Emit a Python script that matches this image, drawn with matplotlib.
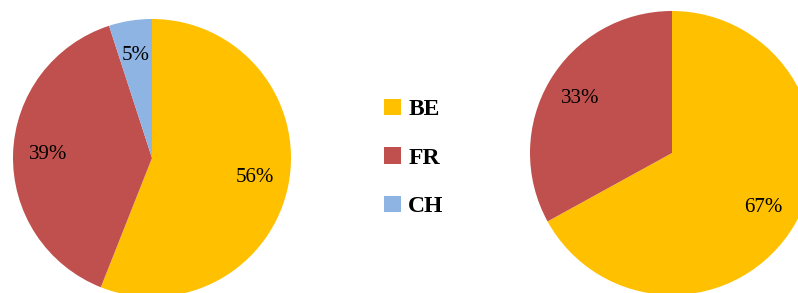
import matplotlib
matplotlib.use('Agg')
import matplotlib.pyplot as plt

#~~~~~~~~~~~~~~~~~~~~~~~~~~~~~~~~~~~~~~~~~~~~~~~~~~~~~~~~~~~~~~~~~~~~~~~~#
categories = ['BE', 'FR', 'CH']
colors = ['#FFC000', '#C0504D', '#8DB4E2']
left_vals = [56, 39, 5]
right_vals = [67, 33, 0]

plt.rcParams['font.family'] = ['Liberation Serif', 'DejaVu Serif']

W, H = 798, 293
fig = plt.figure(figsize=(W/100, H/100), dpi=100)

def pct(p):
   if p < 0.5:
      return ''
   return '%d%%' % round(p)

def pie_axes(cx, cy, r):
   # cx, cy, r in pixels, cy measured from top
   return fig.add_axes([(cx-r)/W, (H-cy-r)/H, 2*r/W, 2*r/H])

ax1 = pie_axes(152, 158, 139)
wedges, _, _ = ax1.pie(left_vals, colors=colors, startangle=90, counterclock=False,
                       autopct=pct, pctdistance=0.75, radius=1,
                       textprops={'fontsize': 15, 'color': 'black'})
ax1.set_xlim(-1, 1)
ax1.set_ylim(-1, 1)
ax1.axis('off')

ax2 = pie_axes(672, 153, 142)
ax2.pie(right_vals, colors=colors, startangle=90, counterclock=False,
        autopct=pct, pctdistance=0.75, radius=1,
        textprops={'fontsize': 15, 'color': 'black'})
ax2.set_xlim(-1, 1)
ax2.set_ylim(-1, 1)
ax2.axis('off')

leg = fig.legend(wedges, categories, loc='center left',
                 bbox_to_anchor=(384/W, (H-158)/H), frameon=False,
                 prop={'size': 17, 'weight': 'bold'},
                 handlelength=0.7, handleheight=0.7, handletextpad=0.33,
                 labelspacing=1.15, borderpad=0, borderaxespad=0)

fig.savefig('out.png', dpi=100)
